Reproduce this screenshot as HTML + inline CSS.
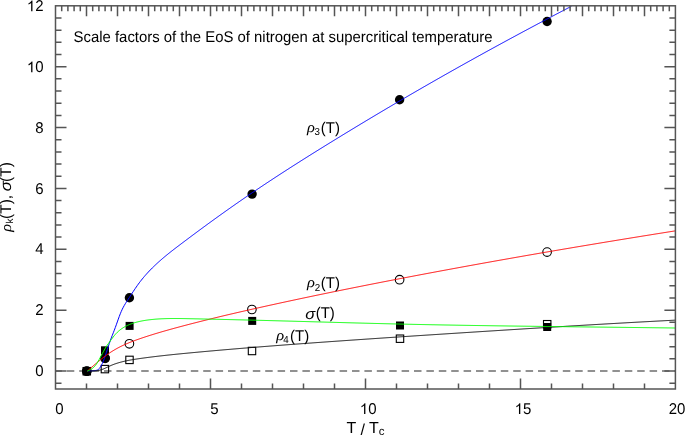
<!DOCTYPE html>
<html><head><meta charset="utf-8"><style>
html,body{margin:0;padding:0;background:#fff;width:685px;height:435px;overflow:hidden}
svg{display:block;will-change:transform;text-rendering:geometricPrecision}
</style></head><body>
<svg width="685" height="435" viewBox="0 0 685 435">
<rect width="685" height="435" fill="#fff"/>
<defs><clipPath id="pc"><rect x="55.5" y="5.8" width="620" height="383.2"/></clipPath></defs>
<line x1="55.5" y1="371" x2="675.4" y2="371" stroke="#6e6e6e" stroke-width="1.6" stroke-dasharray="7.5 4.9" stroke-dashoffset="-11.3"/>
<rect x="83.10" y="367.50" width="7.4" height="7.4" fill="none" stroke="#000" stroke-width="1.1"/>
<rect x="101.20" y="365.40" width="7.4" height="7.4" fill="none" stroke="#000" stroke-width="1.1"/>
<rect x="125.80" y="356.20" width="7.4" height="7.4" fill="none" stroke="#000" stroke-width="1.1"/>
<rect x="248.30" y="347.30" width="7.4" height="7.4" fill="none" stroke="#000" stroke-width="1.1"/>
<rect x="396.30" y="335.00" width="7.4" height="7.4" fill="none" stroke="#000" stroke-width="1.1"/>
<rect x="543.50" y="320.50" width="7.4" height="7.4" fill="none" stroke="#000" stroke-width="1.1"/>
<rect x="82.80" y="367.20" width="8" height="8" fill="#000"/>
<rect x="101.00" y="346.30" width="8" height="8" fill="#000"/>
<rect x="125.60" y="321.90" width="8" height="8" fill="#000"/>
<rect x="248.20" y="316.90" width="8" height="8" fill="#000"/>
<rect x="396.00" y="321.50" width="8" height="8" fill="#000"/>
<rect x="543.20" y="323.00" width="8" height="8" fill="#000"/>
<circle cx="86.8" cy="371.2" r="4.3" fill="none" stroke="#000" stroke-width="1.1"/>
<circle cx="105.1" cy="358.3" r="4.3" fill="none" stroke="#000" stroke-width="1.1"/>
<circle cx="129.4" cy="343.8" r="4.3" fill="none" stroke="#000" stroke-width="1.1"/>
<circle cx="251.9" cy="309.5" r="4.3" fill="none" stroke="#000" stroke-width="1.1"/>
<circle cx="399.6" cy="279.7" r="4.3" fill="none" stroke="#000" stroke-width="1.1"/>
<circle cx="547.1" cy="252.1" r="4.3" fill="none" stroke="#000" stroke-width="1.1"/>
<circle cx="86.8" cy="371.2" r="4.7" fill="#000"/>
<circle cx="105.1" cy="358.3" r="4.7" fill="#000"/>
<circle cx="129.4" cy="297.7" r="4.7" fill="#000"/>
<circle cx="252.1" cy="194.1" r="4.7" fill="#000"/>
<circle cx="399.6" cy="99.8" r="4.7" fill="#000"/>
<circle cx="547.1" cy="21.5" r="4.7" fill="#000"/>
<g clip-path="url(#pc)" fill="none" stroke-width="1.0" stroke-linejoin="round">
<path d="M87.3,371.20 88.3,371.04 89.3,370.93 90.3,370.86 91.3,370.81 92.3,370.77 93.3,370.72 94.3,370.65 95.3,370.54 96.3,370.36 97.3,370.07 98.3,369.50 99.3,368.53 100.3,367.17 101.3,365.50 102.3,363.53 103.3,361.22 104.3,358.57 105.3,355.68 106.3,352.65 107.3,349.55 108.3,346.46 109.3,343.46 110.3,340.60 111.3,337.91 112.3,335.32 113.3,332.78 114.3,330.21 115.3,327.54 116.3,324.77 117.3,321.94 118.3,319.12 119.3,316.37 120.3,313.76 121.3,311.36 122.3,309.18 123.3,307.21 124.3,305.41 125.3,303.73 126.3,302.14 127.3,300.60 128.3,299.08 129.3,297.55 130.3,296.01 131.3,294.47 132.3,292.94 133.3,291.42 134.3,289.91 135.3,288.43 136.3,286.97 137.3,285.54 138.3,284.14 139.3,282.79 140.3,281.47 141.3,280.19 142.3,278.94 143.3,277.72 144.3,276.54 145.3,275.38 146.3,274.25 147.3,273.15 148.3,272.07 149.3,271.01 150.3,269.97 151.3,268.95 152.3,267.95 153.3,266.97 154.3,266.00 155.3,265.05 156.3,264.11 157.3,263.18 158.3,262.27 159.3,261.37 160.3,260.49 161.3,259.61 162.3,258.75 163.3,257.90 164.3,257.05 165.3,256.22 166.3,255.40 167.3,254.58 168.3,253.77 169.3,252.97 170.3,252.18 171.3,251.39 172.3,250.61 173.3,249.83 174.3,249.06 175.3,248.29 176.3,247.53 177.3,246.76 178.3,246.01 179.3,245.25 180.3,244.49 181.3,243.74 182.3,242.98 183.3,242.23 184.3,241.47 185.3,240.72 186.3,239.97 187.3,239.22 188.3,238.47 189.3,237.72 190.3,236.97 191.3,236.23 192.3,235.48 193.3,234.74 194.3,233.99 195.3,233.25 196.3,232.51 197.3,231.77 198.3,231.03 199.3,230.29 200.3,229.55 201.3,228.81 202.3,228.08 203.3,227.34 204.3,226.61 205.3,225.88 206.3,225.14 207.3,224.41 208.3,223.68 209.3,222.95 210.3,222.23 211.3,221.50 212.3,220.77 213.3,220.05 214.3,219.33 215.3,218.60 216.3,217.88 217.3,217.16 218.3,216.44 219.3,215.73 220.3,215.01 221.3,214.29 222.3,213.58 223.3,212.87 224.3,212.15 225.3,211.44 226.3,210.73 227.3,210.02 228.3,209.32 229.3,208.61 230.3,207.90 231.3,207.20 232.3,206.50 233.3,205.80 234.3,205.10 235.3,204.40 236.3,203.70 237.3,203.00 238.3,202.31 239.3,201.61 240.3,200.92 241.3,200.23 242.3,199.54 243.3,198.85 244.3,198.16 245.3,197.47 246.3,196.79 247.3,196.10 248.3,195.42 249.3,194.74 250.3,194.06 251.3,193.38 252.3,192.70 253.3,192.02 254.3,191.35 255.3,190.67 256.3,190.00 257.3,189.32 258.3,188.65 259.3,187.98 260.3,187.31 261.3,186.64 262.3,185.98 263.3,185.31 264.3,184.64 265.3,183.98 266.3,183.32 267.3,182.65 268.3,181.99 269.3,181.33 270.3,180.67 271.3,180.02 272.3,179.36 273.3,178.70 274.3,178.05 275.3,177.39 276.3,176.74 277.3,176.09 278.3,175.43 279.3,174.78 280.3,174.13 281.3,173.48 282.3,172.84 283.3,172.19 284.3,171.54 285.3,170.90 286.3,170.25 287.3,169.61 288.3,168.97 289.3,168.32 290.3,167.68 291.3,167.04 292.3,166.40 293.3,165.76 294.3,165.13 295.3,164.49 296.3,163.85 297.3,163.22 298.3,162.58 299.3,161.95 300.3,161.31 301.3,160.68 302.3,160.05 303.3,159.42 304.3,158.79 305.3,158.16 306.3,157.53 307.3,156.90 308.3,156.27 309.3,155.64 310.3,155.01 311.3,154.39 312.3,153.76 313.3,153.14 314.3,152.51 315.3,151.89 316.3,151.27 317.3,150.64 318.3,150.02 319.3,149.40 320.3,148.78 321.3,148.16 322.3,147.54 323.3,146.92 324.3,146.30 325.3,145.68 326.3,145.06 327.3,144.44 328.3,143.83 329.3,143.21 330.3,142.59 331.3,141.98 332.3,141.36 333.3,140.75 334.3,140.13 335.3,139.52 336.3,138.91 337.3,138.29 338.3,137.68 339.3,137.07 340.3,136.46 341.3,135.84 342.3,135.23 343.3,134.62 344.3,134.01 345.3,133.40 346.3,132.79 347.3,132.19 348.3,131.58 349.3,130.97 350.3,130.36 351.3,129.76 352.3,129.15 353.3,128.54 354.3,127.94 355.3,127.33 356.3,126.73 357.3,126.12 358.3,125.52 359.3,124.92 360.3,124.31 361.3,123.71 362.3,123.11 363.3,122.51 364.3,121.91 365.3,121.30 366.3,120.70 367.3,120.10 368.3,119.50 369.3,118.91 370.3,118.31 371.3,117.71 372.3,117.11 373.3,116.51 374.3,115.92 375.3,115.32 376.3,114.72 377.3,114.13 378.3,113.53 379.3,112.94 380.3,112.35 381.3,111.75 382.3,111.16 383.3,110.56 384.3,109.97 385.3,109.38 386.3,108.79 387.3,108.20 388.3,107.61 389.3,107.02 390.3,106.43 391.3,105.84 392.3,105.25 393.3,104.66 394.3,104.07 395.3,103.48 396.3,102.90 397.3,102.31 398.3,101.72 399.3,101.14 400.3,100.55 401.3,99.97 402.3,99.38 403.3,98.80 404.3,98.21 405.3,97.63 406.3,97.05 407.3,96.46 408.3,95.88 409.3,95.30 410.3,94.72 411.3,94.14 412.3,93.56 413.3,92.98 414.3,92.40 415.3,91.82 416.3,91.24 417.3,90.66 418.3,90.08 419.3,89.50 420.3,88.93 421.3,88.35 422.3,87.77 423.3,87.20 424.3,86.62 425.3,86.05 426.3,85.47 427.3,84.90 428.3,84.33 429.3,83.75 430.3,83.18 431.3,82.61 432.3,82.04 433.3,81.46 434.3,80.89 435.3,80.32 436.3,79.75 437.3,79.18 438.3,78.61 439.3,78.04 440.3,77.47 441.3,76.91 442.3,76.34 443.3,75.77 444.3,75.20 445.3,74.64 446.3,74.07 447.3,73.51 448.3,72.94 449.3,72.38 450.3,71.81 451.3,71.25 452.3,70.68 453.3,70.12 454.3,69.56 455.3,69.00 456.3,68.43 457.3,67.87 458.3,67.31 459.3,66.75 460.3,66.19 461.3,65.63 462.3,65.07 463.3,64.51 464.3,63.95 465.3,63.39 466.3,62.84 467.3,62.28 468.3,61.72 469.3,61.16 470.3,60.61 471.3,60.05 472.3,59.50 473.3,58.94 474.3,58.39 475.3,57.83 476.3,57.28 477.3,56.73 478.3,56.17 479.3,55.62 480.3,55.07 481.3,54.52 482.3,53.96 483.3,53.41 484.3,52.86 485.3,52.31 486.3,51.76 487.3,51.21 488.3,50.66 489.3,50.11 490.3,49.57 491.3,49.02 492.3,48.47 493.3,47.92 494.3,47.38 495.3,46.83 496.3,46.28 497.3,45.74 498.3,45.19 499.3,44.65 500.3,44.10 501.3,43.56 502.3,43.01 503.3,42.47 504.3,41.93 505.3,41.38 506.3,40.84 507.3,40.30 508.3,39.76 509.3,39.22 510.3,38.68 511.3,38.14 512.3,37.60 513.3,37.06 514.3,36.52 515.3,35.98 516.3,35.44 517.3,34.90 518.3,34.36 519.3,33.82 520.3,33.29 521.3,32.75 522.3,32.21 523.3,31.68 524.3,31.14 525.3,30.60 526.3,30.07 527.3,29.53 528.3,29.00 529.3,28.47 530.3,27.93 531.3,27.40 532.3,26.87 533.3,26.33 534.3,25.80 535.3,25.27 536.3,24.74 537.3,24.20 538.3,23.67 539.3,23.14 540.3,22.61 541.3,22.08 542.3,21.55 543.3,21.02 544.3,20.49 545.3,19.97 546.3,19.44 547.3,18.91 548.3,18.38 549.3,17.85 550.3,17.33 551.3,16.80 552.3,16.27 553.3,15.75 554.3,15.22 555.3,14.70 556.3,14.17 557.3,13.65 558.3,13.12 559.3,12.60 560.3,12.07 561.3,11.55 562.3,11.03 563.3,10.50 564.3,9.98 565.3,9.46 566.3,8.94 567.3,8.42 568.3,7.89 569.3,7.37 570.3,6.85 571.3,6.33 571.5,6.23" stroke="#0000ff"/>
<path d="M87.3,371.20 88.3,370.22 89.3,369.31 90.3,368.42 91.3,367.54 92.3,366.68 93.3,365.83 94.3,364.97 95.3,364.12 96.3,363.27 97.3,362.43 98.3,361.58 99.3,360.75 100.3,359.93 101.3,359.12 102.3,358.32 103.3,357.53 104.3,356.76 105.3,356.00 106.3,355.26 107.3,354.54 108.3,353.83 109.3,353.15 110.3,352.48 111.3,351.83 112.3,351.20 113.3,350.58 114.3,349.98 115.3,349.40 116.3,348.83 117.3,348.27 118.3,347.74 119.3,347.21 120.3,346.70 121.3,346.20 122.3,345.72 123.3,345.25 124.3,344.78 125.3,344.33 126.3,343.90 127.3,343.47 128.3,343.05 129.3,342.64 130.3,342.23 131.3,341.84 132.3,341.45 133.3,341.08 134.3,340.70 135.3,340.34 136.3,339.97 137.3,339.62 138.3,339.27 139.3,338.92 140.3,338.57 141.3,338.23 142.3,337.89 143.3,337.56 144.3,337.22 145.3,336.89 146.3,336.57 147.3,336.24 148.3,335.92 149.3,335.60 150.3,335.28 151.3,334.97 152.3,334.66 153.3,334.35 154.3,334.04 155.3,333.73 156.3,333.43 157.3,333.13 158.3,332.83 159.3,332.53 160.3,332.24 161.3,331.94 162.3,331.65 163.3,331.36 164.3,331.07 165.3,330.79 166.3,330.50 167.3,330.22 168.3,329.94 169.3,329.66 170.3,329.38 171.3,329.10 172.3,328.83 173.3,328.55 174.3,328.28 175.3,328.01 176.3,327.74 177.3,327.47 178.3,327.20 179.3,326.93 180.3,326.66 181.3,326.40 182.3,326.13 183.3,325.87 184.3,325.60 185.3,325.34 186.3,325.08 187.3,324.81 188.3,324.55 189.3,324.29 190.3,324.03 191.3,323.78 192.3,323.52 193.3,323.26 194.3,323.01 195.3,322.75 196.3,322.49 197.3,322.24 198.3,321.99 199.3,321.73 200.3,321.48 201.3,321.23 202.3,320.98 203.3,320.73 204.3,320.48 205.3,320.23 206.3,319.98 207.3,319.74 208.3,319.49 209.3,319.25 210.3,319.00 211.3,318.76 212.3,318.51 213.3,318.27 214.3,318.02 215.3,317.78 216.3,317.54 217.3,317.30 218.3,317.06 219.3,316.82 220.3,316.58 221.3,316.34 222.3,316.10 223.3,315.86 224.3,315.63 225.3,315.39 226.3,315.15 227.3,314.92 228.3,314.68 229.3,314.45 230.3,314.21 231.3,313.98 232.3,313.75 233.3,313.52 234.3,313.28 235.3,313.05 236.3,312.82 237.3,312.59 238.3,312.36 239.3,312.13 240.3,311.90 241.3,311.67 242.3,311.44 243.3,311.21 244.3,310.98 245.3,310.76 246.3,310.53 247.3,310.30 248.3,310.08 249.3,309.85 250.3,309.62 251.3,309.40 252.3,309.17 253.3,308.95 254.3,308.72 255.3,308.50 256.3,308.28 257.3,308.05 258.3,307.83 259.3,307.61 260.3,307.39 261.3,307.16 262.3,306.94 263.3,306.72 264.3,306.50 265.3,306.28 266.3,306.06 267.3,305.83 268.3,305.61 269.3,305.39 270.3,305.17 271.3,304.96 272.3,304.74 273.3,304.52 274.3,304.30 275.3,304.08 276.3,303.86 277.3,303.64 278.3,303.43 279.3,303.21 280.3,302.99 281.3,302.77 282.3,302.56 283.3,302.34 284.3,302.13 285.3,301.91 286.3,301.69 287.3,301.48 288.3,301.26 289.3,301.05 290.3,300.83 291.3,300.62 292.3,300.41 293.3,300.19 294.3,299.98 295.3,299.77 296.3,299.55 297.3,299.34 298.3,299.13 299.3,298.92 300.3,298.70 301.3,298.49 302.3,298.28 303.3,298.07 304.3,297.86 305.3,297.65 306.3,297.44 307.3,297.23 308.3,297.02 309.3,296.81 310.3,296.60 311.3,296.39 312.3,296.18 313.3,295.97 314.3,295.76 315.3,295.55 316.3,295.34 317.3,295.14 318.3,294.93 319.3,294.72 320.3,294.51 321.3,294.31 322.3,294.10 323.3,293.89 324.3,293.69 325.3,293.48 326.3,293.27 327.3,293.07 328.3,292.86 329.3,292.66 330.3,292.45 331.3,292.25 332.3,292.04 333.3,291.84 334.3,291.63 335.3,291.43 336.3,291.23 337.3,291.02 338.3,290.82 339.3,290.62 340.3,290.41 341.3,290.21 342.3,290.01 343.3,289.81 344.3,289.60 345.3,289.40 346.3,289.20 347.3,289.00 348.3,288.80 349.3,288.60 350.3,288.40 351.3,288.20 352.3,288.00 353.3,287.79 354.3,287.59 355.3,287.40 356.3,287.20 357.3,287.00 358.3,286.80 359.3,286.60 360.3,286.40 361.3,286.20 362.3,286.00 363.3,285.80 364.3,285.60 365.3,285.41 366.3,285.21 367.3,285.01 368.3,284.81 369.3,284.62 370.3,284.42 371.3,284.22 372.3,284.03 373.3,283.83 374.3,283.63 375.3,283.44 376.3,283.24 377.3,283.05 378.3,282.85 379.3,282.65 380.3,282.46 381.3,282.26 382.3,282.07 383.3,281.87 384.3,281.68 385.3,281.49 386.3,281.29 387.3,281.10 388.3,280.90 389.3,280.71 390.3,280.52 391.3,280.32 392.3,280.13 393.3,279.94 394.3,279.74 395.3,279.55 396.3,279.36 397.3,279.17 398.3,278.97 399.3,278.78 400.3,278.59 401.3,278.40 402.3,278.21 403.3,278.01 404.3,277.82 405.3,277.63 406.3,277.44 407.3,277.25 408.3,277.06 409.3,276.87 410.3,276.68 411.3,276.49 412.3,276.30 413.3,276.11 414.3,275.92 415.3,275.73 416.3,275.54 417.3,275.35 418.3,275.16 419.3,274.97 420.3,274.78 421.3,274.59 422.3,274.40 423.3,274.22 424.3,274.03 425.3,273.84 426.3,273.65 427.3,273.46 428.3,273.28 429.3,273.09 430.3,272.90 431.3,272.71 432.3,272.53 433.3,272.34 434.3,272.15 435.3,271.97 436.3,271.78 437.3,271.59 438.3,271.41 439.3,271.22 440.3,271.03 441.3,270.85 442.3,270.66 443.3,270.48 444.3,270.29 445.3,270.11 446.3,269.92 447.3,269.74 448.3,269.55 449.3,269.37 450.3,269.18 451.3,269.00 452.3,268.81 453.3,268.63 454.3,268.45 455.3,268.26 456.3,268.08 457.3,267.90 458.3,267.71 459.3,267.53 460.3,267.35 461.3,267.16 462.3,266.98 463.3,266.80 464.3,266.61 465.3,266.43 466.3,266.25 467.3,266.07 468.3,265.89 469.3,265.70 470.3,265.52 471.3,265.34 472.3,265.16 473.3,264.98 474.3,264.80 475.3,264.62 476.3,264.44 477.3,264.25 478.3,264.07 479.3,263.89 480.3,263.71 481.3,263.53 482.3,263.35 483.3,263.17 484.3,262.99 485.3,262.81 486.3,262.63 487.3,262.45 488.3,262.28 489.3,262.10 490.3,261.92 491.3,261.74 492.3,261.56 493.3,261.38 494.3,261.20 495.3,261.02 496.3,260.85 497.3,260.67 498.3,260.49 499.3,260.31 500.3,260.14 501.3,259.96 502.3,259.78 503.3,259.60 504.3,259.43 505.3,259.25 506.3,259.07 507.3,258.90 508.3,258.72 509.3,258.54 510.3,258.37 511.3,258.19 512.3,258.01 513.3,257.84 514.3,257.66 515.3,257.49 516.3,257.31 517.3,257.14 518.3,256.96 519.3,256.79 520.3,256.61 521.3,256.44 522.3,256.26 523.3,256.09 524.3,255.91 525.3,255.74 526.3,255.56 527.3,255.39 528.3,255.21 529.3,255.04 530.3,254.87 531.3,254.69 532.3,254.52 533.3,254.35 534.3,254.17 535.3,254.00 536.3,253.83 537.3,253.65 538.3,253.48 539.3,253.31 540.3,253.14 541.3,252.96 542.3,252.79 543.3,252.62 544.3,252.45 545.3,252.28 546.3,252.10 547.3,251.93 548.3,251.76 549.3,251.59 550.3,251.42 551.3,251.25 552.3,251.08 553.3,250.90 554.3,250.73 555.3,250.56 556.3,250.39 557.3,250.22 558.3,250.05 559.3,249.88 560.3,249.71 561.3,249.54 562.3,249.37 563.3,249.20 564.3,249.03 565.3,248.86 566.3,248.69 567.3,248.52 568.3,248.35 569.3,248.19 570.3,248.02 571.3,247.85 572.3,247.68 573.3,247.51 574.3,247.34 575.3,247.17 576.3,247.00 577.3,246.84 578.3,246.67 579.3,246.50 580.3,246.33 581.3,246.17 582.3,246.00 583.3,245.83 584.3,245.66 585.3,245.50 586.3,245.33 587.3,245.16 588.3,244.99 589.3,244.83 590.3,244.66 591.3,244.49 592.3,244.33 593.3,244.16 594.3,244.00 595.3,243.83 596.3,243.66 597.3,243.50 598.3,243.33 599.3,243.17 600.3,243.00 601.3,242.83 602.3,242.67 603.3,242.50 604.3,242.34 605.3,242.17 606.3,242.01 607.3,241.84 608.3,241.68 609.3,241.51 610.3,241.35 611.3,241.19 612.3,241.02 613.3,240.86 614.3,240.69 615.3,240.53 616.3,240.37 617.3,240.20 618.3,240.04 619.3,239.87 620.3,239.71 621.3,239.55 622.3,239.38 623.3,239.22 624.3,239.06 625.3,238.90 626.3,238.73 627.3,238.57 628.3,238.41 629.3,238.24 630.3,238.08 631.3,237.92 632.3,237.76 633.3,237.60 634.3,237.43 635.3,237.27 636.3,237.11 637.3,236.95 638.3,236.79 639.3,236.63 640.3,236.46 641.3,236.30 642.3,236.14 643.3,235.98 644.3,235.82 645.3,235.66 646.3,235.50 647.3,235.34 648.3,235.18 649.3,235.02 650.3,234.86 651.3,234.69 652.3,234.53 653.3,234.37 654.3,234.21 655.3,234.05 656.3,233.89 657.3,233.74 658.3,233.58 659.3,233.42 660.3,233.26 661.3,233.10 662.3,232.94 663.3,232.78 664.3,232.62 665.3,232.46 666.3,232.30 667.3,232.14 668.3,231.98 669.3,231.83 670.3,231.67 671.3,231.51 672.3,231.35 673.3,231.19 674.3,231.03 675.3,230.88 675.4,230.86" stroke="#ff0000"/>
<path d="M87.3,371.20 88.3,371.05 89.3,370.96 90.3,370.91 91.3,370.90 92.3,370.89 93.3,370.89 94.3,370.87 95.3,370.83 96.3,370.75 97.3,370.64 98.3,370.48 99.3,370.28 100.3,370.03 101.3,369.73 102.3,369.39 103.3,369.01 104.3,368.59 105.3,368.15 106.3,367.68 107.3,367.20 108.3,366.72 109.3,366.24 110.3,365.79 111.3,365.35 112.3,364.94 113.3,364.55 114.3,364.17 115.3,363.82 116.3,363.48 117.3,363.16 118.3,362.85 119.3,362.56 120.3,362.28 121.3,362.02 122.3,361.76 123.3,361.51 124.3,361.28 125.3,361.05 126.3,360.84 127.3,360.63 128.3,360.43 129.3,360.24 130.3,360.05 131.3,359.88 132.3,359.70 133.3,359.54 134.3,359.38 135.3,359.22 136.3,359.07 137.3,358.92 138.3,358.77 139.3,358.63 140.3,358.48 141.3,358.34 142.3,358.21 143.3,358.07 144.3,357.93 145.3,357.80 146.3,357.67 147.3,357.53 148.3,357.40 149.3,357.28 150.3,357.15 151.3,357.02 152.3,356.90 153.3,356.78 154.3,356.65 155.3,356.53 156.3,356.41 157.3,356.29 158.3,356.18 159.3,356.06 160.3,355.95 161.3,355.83 162.3,355.72 163.3,355.61 164.3,355.50 165.3,355.39 166.3,355.28 167.3,355.17 168.3,355.06 169.3,354.96 170.3,354.85 171.3,354.75 172.3,354.64 173.3,354.54 174.3,354.44 175.3,354.33 176.3,354.23 177.3,354.13 178.3,354.03 179.3,353.93 180.3,353.83 181.3,353.74 182.3,353.64 183.3,353.54 184.3,353.44 185.3,353.35 186.3,353.25 187.3,353.16 188.3,353.06 189.3,352.97 190.3,352.87 191.3,352.78 192.3,352.68 193.3,352.59 194.3,352.50 195.3,352.40 196.3,352.31 197.3,352.22 198.3,352.12 199.3,352.03 200.3,351.94 201.3,351.85 202.3,351.76 203.3,351.67 204.3,351.57 205.3,351.48 206.3,351.39 207.3,351.30 208.3,351.21 209.3,351.12 210.3,351.03 211.3,350.95 212.3,350.86 213.3,350.77 214.3,350.68 215.3,350.59 216.3,350.50 217.3,350.42 218.3,350.33 219.3,350.24 220.3,350.15 221.3,350.07 222.3,349.98 223.3,349.89 224.3,349.81 225.3,349.72 226.3,349.64 227.3,349.55 228.3,349.47 229.3,349.38 230.3,349.30 231.3,349.21 232.3,349.13 233.3,349.04 234.3,348.96 235.3,348.88 236.3,348.79 237.3,348.71 238.3,348.63 239.3,348.54 240.3,348.46 241.3,348.38 242.3,348.30 243.3,348.21 244.3,348.13 245.3,348.05 246.3,347.97 247.3,347.89 248.3,347.81 249.3,347.72 250.3,347.64 251.3,347.56 252.3,347.48 253.3,347.40 254.3,347.32 255.3,347.24 256.3,347.16 257.3,347.08 258.3,347.00 259.3,346.92 260.3,346.85 261.3,346.77 262.3,346.69 263.3,346.61 264.3,346.53 265.3,346.45 266.3,346.37 267.3,346.30 268.3,346.22 269.3,346.14 270.3,346.06 271.3,345.99 272.3,345.91 273.3,345.83 274.3,345.75 275.3,345.68 276.3,345.60 277.3,345.52 278.3,345.45 279.3,345.37 280.3,345.30 281.3,345.22 282.3,345.14 283.3,345.07 284.3,344.99 285.3,344.92 286.3,344.84 287.3,344.77 288.3,344.69 289.3,344.62 290.3,344.54 291.3,344.47 292.3,344.39 293.3,344.32 294.3,344.24 295.3,344.17 296.3,344.10 297.3,344.02 298.3,343.95 299.3,343.87 300.3,343.80 301.3,343.73 302.3,343.65 303.3,343.58 304.3,343.51 305.3,343.43 306.3,343.36 307.3,343.29 308.3,343.21 309.3,343.14 310.3,343.07 311.3,343.00 312.3,342.92 313.3,342.85 314.3,342.78 315.3,342.71 316.3,342.63 317.3,342.56 318.3,342.49 319.3,342.42 320.3,342.35 321.3,342.27 322.3,342.20 323.3,342.13 324.3,342.06 325.3,341.99 326.3,341.92 327.3,341.85 328.3,341.78 329.3,341.70 330.3,341.63 331.3,341.56 332.3,341.49 333.3,341.42 334.3,341.35 335.3,341.28 336.3,341.21 337.3,341.14 338.3,341.07 339.3,341.00 340.3,340.93 341.3,340.86 342.3,340.79 343.3,340.72 344.3,340.65 345.3,340.58 346.3,340.51 347.3,340.44 348.3,340.37 349.3,340.30 350.3,340.23 351.3,340.16 352.3,340.09 353.3,340.02 354.3,339.96 355.3,339.89 356.3,339.82 357.3,339.75 358.3,339.68 359.3,339.61 360.3,339.54 361.3,339.47 362.3,339.41 363.3,339.34 364.3,339.27 365.3,339.20 366.3,339.13 367.3,339.06 368.3,339.00 369.3,338.93 370.3,338.86 371.3,338.79 372.3,338.72 373.3,338.66 374.3,338.59 375.3,338.52 376.3,338.45 377.3,338.39 378.3,338.32 379.3,338.25 380.3,338.18 381.3,338.12 382.3,338.05 383.3,337.98 384.3,337.91 385.3,337.85 386.3,337.78 387.3,337.71 388.3,337.65 389.3,337.58 390.3,337.51 391.3,337.45 392.3,337.38 393.3,337.31 394.3,337.25 395.3,337.18 396.3,337.11 397.3,337.05 398.3,336.98 399.3,336.91 400.3,336.85 401.3,336.78 402.3,336.72 403.3,336.65 404.3,336.58 405.3,336.52 406.3,336.45 407.3,336.38 408.3,336.32 409.3,336.25 410.3,336.19 411.3,336.12 412.3,336.06 413.3,335.99 414.3,335.92 415.3,335.86 416.3,335.79 417.3,335.73 418.3,335.66 419.3,335.60 420.3,335.53 421.3,335.46 422.3,335.40 423.3,335.33 424.3,335.27 425.3,335.20 426.3,335.14 427.3,335.07 428.3,335.01 429.3,334.94 430.3,334.88 431.3,334.81 432.3,334.75 433.3,334.68 434.3,334.62 435.3,334.55 436.3,334.49 437.3,334.42 438.3,334.36 439.3,334.29 440.3,334.23 441.3,334.16 442.3,334.10 443.3,334.03 444.3,333.97 445.3,333.90 446.3,333.84 447.3,333.77 448.3,333.71 449.3,333.64 450.3,333.58 451.3,333.51 452.3,333.45 453.3,333.38 454.3,333.32 455.3,333.25 456.3,333.19 457.3,333.13 458.3,333.06 459.3,333.00 460.3,332.93 461.3,332.87 462.3,332.80 463.3,332.74 464.3,332.67 465.3,332.61 466.3,332.54 467.3,332.48 468.3,332.42 469.3,332.35 470.3,332.29 471.3,332.22 472.3,332.16 473.3,332.09 474.3,332.03 475.3,331.97 476.3,331.90 477.3,331.84 478.3,331.77 479.3,331.71 480.3,331.65 481.3,331.58 482.3,331.52 483.3,331.45 484.3,331.39 485.3,331.33 486.3,331.26 487.3,331.20 488.3,331.13 489.3,331.07 490.3,331.01 491.3,330.94 492.3,330.88 493.3,330.82 494.3,330.75 495.3,330.69 496.3,330.63 497.3,330.56 498.3,330.50 499.3,330.44 500.3,330.37 501.3,330.31 502.3,330.25 503.3,330.18 504.3,330.12 505.3,330.06 506.3,329.99 507.3,329.93 508.3,329.87 509.3,329.80 510.3,329.74 511.3,329.68 512.3,329.61 513.3,329.55 514.3,329.49 515.3,329.43 516.3,329.36 517.3,329.30 518.3,329.24 519.3,329.17 520.3,329.11 521.3,329.05 522.3,328.99 523.3,328.92 524.3,328.86 525.3,328.80 526.3,328.74 527.3,328.68 528.3,328.61 529.3,328.55 530.3,328.49 531.3,328.43 532.3,328.36 533.3,328.30 534.3,328.24 535.3,328.18 536.3,328.12 537.3,328.05 538.3,327.99 539.3,327.93 540.3,327.87 541.3,327.81 542.3,327.75 543.3,327.69 544.3,327.62 545.3,327.56 546.3,327.50 547.3,327.44 548.3,327.38 549.3,327.32 550.3,327.26 551.3,327.19 552.3,327.13 553.3,327.07 554.3,327.01 555.3,326.95 556.3,326.89 557.3,326.83 558.3,326.77 559.3,326.71 560.3,326.65 561.3,326.59 562.3,326.53 563.3,326.47 564.3,326.41 565.3,326.35 566.3,326.28 567.3,326.22 568.3,326.16 569.3,326.10 570.3,326.04 571.3,325.98 572.3,325.92 573.3,325.86 574.3,325.80 575.3,325.75 576.3,325.69 577.3,325.63 578.3,325.57 579.3,325.51 580.3,325.45 581.3,325.39 582.3,325.33 583.3,325.27 584.3,325.21 585.3,325.15 586.3,325.09 587.3,325.03 588.3,324.97 589.3,324.92 590.3,324.86 591.3,324.80 592.3,324.74 593.3,324.68 594.3,324.62 595.3,324.56 596.3,324.51 597.3,324.45 598.3,324.39 599.3,324.33 600.3,324.27 601.3,324.22 602.3,324.16 603.3,324.10 604.3,324.04 605.3,323.98 606.3,323.93 607.3,323.87 608.3,323.81 609.3,323.75 610.3,323.70 611.3,323.64 612.3,323.58 613.3,323.53 614.3,323.47 615.3,323.41 616.3,323.35 617.3,323.30 618.3,323.24 619.3,323.18 620.3,323.13 621.3,323.07 622.3,323.01 623.3,322.96 624.3,322.90 625.3,322.85 626.3,322.79 627.3,322.73 628.3,322.68 629.3,322.62 630.3,322.57 631.3,322.51 632.3,322.45 633.3,322.40 634.3,322.34 635.3,322.29 636.3,322.23 637.3,322.18 638.3,322.12 639.3,322.07 640.3,322.01 641.3,321.96 642.3,321.90 643.3,321.85 644.3,321.79 645.3,321.74 646.3,321.69 647.3,321.63 648.3,321.58 649.3,321.52 650.3,321.47 651.3,321.41 652.3,321.36 653.3,321.31 654.3,321.25 655.3,321.20 656.3,321.15 657.3,321.09 658.3,321.04 659.3,320.99 660.3,320.93 661.3,320.88 662.3,320.83 663.3,320.77 664.3,320.72 665.3,320.67 666.3,320.62 667.3,320.56 668.3,320.51 669.3,320.46 670.3,320.41 671.3,320.35 672.3,320.30 673.3,320.25 674.3,320.20 675.3,320.15 675.4,320.14" stroke="#111"/>
<path d="M87.3,371.20 88.3,370.62 89.3,370.09 90.3,369.58 91.3,369.04 92.3,368.42 93.3,367.66 94.3,366.72 95.3,365.56 96.3,364.22 97.3,362.71 98.3,361.05 99.3,359.27 100.3,357.42 101.3,355.52 102.3,353.62 103.3,351.76 104.3,349.95 105.3,348.22 106.3,346.60 107.3,345.09 108.3,343.66 109.3,342.27 110.3,340.90 111.3,339.53 112.3,338.18 113.3,336.86 114.3,335.60 115.3,334.42 116.3,333.33 117.3,332.32 118.3,331.39 119.3,330.52 120.3,329.73 121.3,328.99 122.3,328.30 123.3,327.65 124.3,327.05 125.3,326.49 126.3,325.97 127.3,325.48 128.3,325.03 129.3,324.60 130.3,324.20 131.3,323.83 132.3,323.48 133.3,323.14 134.3,322.82 135.3,322.53 136.3,322.24 137.3,321.98 138.3,321.73 139.3,321.49 140.3,321.27 141.3,321.07 142.3,320.87 143.3,320.69 144.3,320.52 145.3,320.36 146.3,320.21 147.3,320.07 148.3,319.93 149.3,319.81 150.3,319.69 151.3,319.58 152.3,319.48 153.3,319.38 154.3,319.29 155.3,319.20 156.3,319.12 157.3,319.05 158.3,318.98 159.3,318.92 160.3,318.86 161.3,318.81 162.3,318.76 163.3,318.72 164.3,318.68 165.3,318.65 166.3,318.62 167.3,318.59 168.3,318.57 169.3,318.55 170.3,318.53 171.3,318.52 172.3,318.51 173.3,318.51 174.3,318.51 175.3,318.51 176.3,318.51 177.3,318.52 178.3,318.52 179.3,318.53 180.3,318.54 181.3,318.56 182.3,318.57 183.3,318.59 184.3,318.60 185.3,318.62 186.3,318.64 187.3,318.66 188.3,318.68 189.3,318.70 190.3,318.72 191.3,318.74 192.3,318.76 193.3,318.78 194.3,318.80 195.3,318.83 196.3,318.85 197.3,318.87 198.3,318.89 199.3,318.91 200.3,318.93 201.3,318.95 202.3,318.97 203.3,319.00 204.3,319.02 205.3,319.04 206.3,319.06 207.3,319.08 208.3,319.11 209.3,319.13 210.3,319.15 211.3,319.17 212.3,319.19 213.3,319.22 214.3,319.24 215.3,319.26 216.3,319.28 217.3,319.31 218.3,319.33 219.3,319.35 220.3,319.37 221.3,319.40 222.3,319.42 223.3,319.44 224.3,319.47 225.3,319.49 226.3,319.51 227.3,319.54 228.3,319.56 229.3,319.58 230.3,319.61 231.3,319.63 232.3,319.65 233.3,319.68 234.3,319.70 235.3,319.72 236.3,319.75 237.3,319.77 238.3,319.80 239.3,319.82 240.3,319.84 241.3,319.87 242.3,319.89 243.3,319.92 244.3,319.94 245.3,319.97 246.3,319.99 247.3,320.02 248.3,320.04 249.3,320.07 250.3,320.09 251.3,320.12 252.3,320.14 253.3,320.17 254.3,320.19 255.3,320.22 256.3,320.24 257.3,320.27 258.3,320.29 259.3,320.32 260.3,320.35 261.3,320.37 262.3,320.40 263.3,320.42 264.3,320.45 265.3,320.47 266.3,320.50 267.3,320.53 268.3,320.55 269.3,320.58 270.3,320.61 271.3,320.63 272.3,320.66 273.3,320.69 274.3,320.71 275.3,320.74 276.3,320.77 277.3,320.79 278.3,320.82 279.3,320.85 280.3,320.87 281.3,320.90 282.3,320.93 283.3,320.96 284.3,320.98 285.3,321.01 286.3,321.04 287.3,321.06 288.3,321.09 289.3,321.12 290.3,321.15 291.3,321.17 292.3,321.20 293.3,321.23 294.3,321.26 295.3,321.28 296.3,321.31 297.3,321.34 298.3,321.37 299.3,321.39 300.3,321.42 301.3,321.45 302.3,321.48 303.3,321.51 304.3,321.53 305.3,321.56 306.3,321.59 307.3,321.62 308.3,321.64 309.3,321.67 310.3,321.70 311.3,321.73 312.3,321.76 313.3,321.78 314.3,321.81 315.3,321.84 316.3,321.87 317.3,321.90 318.3,321.92 319.3,321.95 320.3,321.98 321.3,322.01 322.3,322.04 323.3,322.06 324.3,322.09 325.3,322.12 326.3,322.15 327.3,322.17 328.3,322.20 329.3,322.23 330.3,322.26 331.3,322.29 332.3,322.31 333.3,322.34 334.3,322.37 335.3,322.40 336.3,322.42 337.3,322.45 338.3,322.48 339.3,322.51 340.3,322.53 341.3,322.56 342.3,322.59 343.3,322.62 344.3,322.64 345.3,322.67 346.3,322.70 347.3,322.72 348.3,322.75 349.3,322.78 350.3,322.81 351.3,322.83 352.3,322.86 353.3,322.89 354.3,322.91 355.3,322.94 356.3,322.97 357.3,322.99 358.3,323.02 359.3,323.05 360.3,323.07 361.3,323.10 362.3,323.13 363.3,323.15 364.3,323.18 365.3,323.21 366.3,323.23 367.3,323.26 368.3,323.28 369.3,323.31 370.3,323.34 371.3,323.36 372.3,323.39 373.3,323.41 374.3,323.44 375.3,323.46 376.3,323.49 377.3,323.51 378.3,323.54 379.3,323.56 380.3,323.59 381.3,323.61 382.3,323.64 383.3,323.66 384.3,323.69 385.3,323.71 386.3,323.74 387.3,323.76 388.3,323.79 389.3,323.81 390.3,323.83 391.3,323.86 392.3,323.88 393.3,323.91 394.3,323.93 395.3,323.95 396.3,323.98 397.3,324.00 398.3,324.02 399.3,324.05 400.3,324.07 401.3,324.09 402.3,324.11 403.3,324.14 404.3,324.16 405.3,324.18 406.3,324.20 407.3,324.23 408.3,324.25 409.3,324.27 410.3,324.29 411.3,324.31 412.3,324.34 413.3,324.36 414.3,324.38 415.3,324.40 416.3,324.42 417.3,324.44 418.3,324.46 419.3,324.48 420.3,324.50 421.3,324.53 422.3,324.55 423.3,324.57 424.3,324.59 425.3,324.61 426.3,324.63 427.3,324.65 428.3,324.67 429.3,324.69 430.3,324.71 431.3,324.73 432.3,324.75 433.3,324.76 434.3,324.78 435.3,324.80 436.3,324.82 437.3,324.84 438.3,324.86 439.3,324.88 440.3,324.90 441.3,324.92 442.3,324.94 443.3,324.95 444.3,324.97 445.3,324.99 446.3,325.01 447.3,325.03 448.3,325.04 449.3,325.06 450.3,325.08 451.3,325.10 452.3,325.12 453.3,325.13 454.3,325.15 455.3,325.17 456.3,325.19 457.3,325.20 458.3,325.22 459.3,325.24 460.3,325.25 461.3,325.27 462.3,325.29 463.3,325.30 464.3,325.32 465.3,325.34 466.3,325.35 467.3,325.37 468.3,325.39 469.3,325.40 470.3,325.42 471.3,325.44 472.3,325.45 473.3,325.47 474.3,325.48 475.3,325.50 476.3,325.52 477.3,325.53 478.3,325.55 479.3,325.56 480.3,325.58 481.3,325.59 482.3,325.61 483.3,325.62 484.3,325.64 485.3,325.65 486.3,325.67 487.3,325.68 488.3,325.70 489.3,325.71 490.3,325.73 491.3,325.74 492.3,325.76 493.3,325.77 494.3,325.79 495.3,325.80 496.3,325.82 497.3,325.83 498.3,325.85 499.3,325.86 500.3,325.87 501.3,325.89 502.3,325.90 503.3,325.92 504.3,325.93 505.3,325.94 506.3,325.96 507.3,325.97 508.3,325.99 509.3,326.00 510.3,326.01 511.3,326.03 512.3,326.04 513.3,326.05 514.3,326.07 515.3,326.08 516.3,326.09 517.3,326.11 518.3,326.12 519.3,326.13 520.3,326.15 521.3,326.16 522.3,326.17 523.3,326.19 524.3,326.20 525.3,326.21 526.3,326.23 527.3,326.24 528.3,326.25 529.3,326.26 530.3,326.28 531.3,326.29 532.3,326.30 533.3,326.31 534.3,326.33 535.3,326.34 536.3,326.35 537.3,326.36 538.3,326.38 539.3,326.39 540.3,326.40 541.3,326.41 542.3,326.43 543.3,326.44 544.3,326.45 545.3,326.46 546.3,326.48 547.3,326.49 548.3,326.50 549.3,326.51 550.3,326.52 551.3,326.54 552.3,326.55 553.3,326.56 554.3,326.57 555.3,326.58 556.3,326.60 557.3,326.61 558.3,326.62 559.3,326.63 560.3,326.64 561.3,326.66 562.3,326.67 563.3,326.68 564.3,326.69 565.3,326.70 566.3,326.71 567.3,326.73 568.3,326.74 569.3,326.75 570.3,326.76 571.3,326.77 572.3,326.78 573.3,326.80 574.3,326.81 575.3,326.82 576.3,326.83 577.3,326.84 578.3,326.85 579.3,326.87 580.3,326.88 581.3,326.89 582.3,326.90 583.3,326.91 584.3,326.92 585.3,326.93 586.3,326.95 587.3,326.96 588.3,326.97 589.3,326.98 590.3,326.99 591.3,327.00 592.3,327.01 593.3,327.03 594.3,327.04 595.3,327.05 596.3,327.06 597.3,327.07 598.3,327.08 599.3,327.09 600.3,327.11 601.3,327.12 602.3,327.13 603.3,327.14 604.3,327.15 605.3,327.16 606.3,327.17 607.3,327.19 608.3,327.20 609.3,327.21 610.3,327.22 611.3,327.23 612.3,327.24 613.3,327.25 614.3,327.27 615.3,327.28 616.3,327.29 617.3,327.30 618.3,327.31 619.3,327.32 620.3,327.34 621.3,327.35 622.3,327.36 623.3,327.37 624.3,327.38 625.3,327.39 626.3,327.41 627.3,327.42 628.3,327.43 629.3,327.44 630.3,327.45 631.3,327.46 632.3,327.48 633.3,327.49 634.3,327.50 635.3,327.51 636.3,327.52 637.3,327.53 638.3,327.55 639.3,327.56 640.3,327.57 641.3,327.58 642.3,327.59 643.3,327.61 644.3,327.62 645.3,327.63 646.3,327.64 647.3,327.66 648.3,327.67 649.3,327.68 650.3,327.69 651.3,327.70 652.3,327.72 653.3,327.73 654.3,327.74 655.3,327.75 656.3,327.77 657.3,327.78 658.3,327.79 659.3,327.80 660.3,327.82 661.3,327.83 662.3,327.84 663.3,327.85 664.3,327.87 665.3,327.88 666.3,327.89 667.3,327.91 668.3,327.92 669.3,327.93 670.3,327.94 671.3,327.96 672.3,327.97 673.3,327.98 674.3,328.00 675.3,328.01 675.4,328.01" stroke="#00ff00"/>
</g>
<g stroke="#555" stroke-width="1.5" fill="none">
<rect x="55.5" y="5.8" width="619.90" height="383.20"/>
<path d="M55.5,383.17h6M675.4,383.17h-6M55.5,371.00h11M675.4,371.00h-11M55.5,358.83h6M675.4,358.83h-6M55.5,346.66h6M675.4,346.66h-6M55.5,334.48h6M675.4,334.48h-6M55.5,322.31h6M675.4,322.31h-6M55.5,310.14h11M675.4,310.14h-11M55.5,297.97h6M675.4,297.97h-6M55.5,285.80h6M675.4,285.80h-6M55.5,273.62h6M675.4,273.62h-6M55.5,261.45h6M675.4,261.45h-6M55.5,249.28h11M675.4,249.28h-11M55.5,237.11h6M675.4,237.11h-6M55.5,224.94h6M675.4,224.94h-6M55.5,212.76h6M675.4,212.76h-6M55.5,200.59h6M675.4,200.59h-6M55.5,188.42h11M675.4,188.42h-11M55.5,176.25h6M675.4,176.25h-6M55.5,164.08h6M675.4,164.08h-6M55.5,151.90h6M675.4,151.90h-6M55.5,139.73h6M675.4,139.73h-6M55.5,127.56h11M675.4,127.56h-11M55.5,115.39h6M675.4,115.39h-6M55.5,103.22h6M675.4,103.22h-6M55.5,91.04h6M675.4,91.04h-6M55.5,78.87h6M675.4,78.87h-6M55.5,66.70h11M675.4,66.70h-11M55.5,54.53h6M675.4,54.53h-6M55.5,42.36h6M675.4,42.36h-6M55.5,30.18h6M675.4,30.18h-6M55.5,18.01h6M675.4,18.01h-6M86.50,389.0v-5.5M117.50,389.0v-5.5M148.50,389.0v-5.5M179.50,389.0v-5.5M210.50,389.0v-10.5M241.50,389.0v-5.5M272.50,389.0v-5.5M303.50,389.0v-5.5M334.50,389.0v-5.5M365.50,389.0v-10.5M396.50,389.0v-5.5M427.50,389.0v-5.5M458.50,389.0v-5.5M489.50,389.0v-5.5M520.50,389.0v-10.5M551.50,389.0v-5.5M582.50,389.0v-5.5M613.50,389.0v-5.5M644.50,389.0v-5.5M61.70,5.8v5.5M67.90,5.8v5.5M74.10,5.8v5.5M80.30,5.8v5.5M86.50,5.8v10.5M92.70,5.8v5.5M98.90,5.8v5.5M105.10,5.8v5.5M111.30,5.8v5.5M117.50,5.8v10.5M123.70,5.8v5.5M129.90,5.8v5.5M136.10,5.8v5.5M142.30,5.8v5.5M148.50,5.8v10.5M154.70,5.8v5.5M160.90,5.8v5.5M167.10,5.8v5.5M173.30,5.8v5.5M179.50,5.8v10.5M185.70,5.8v5.5M191.90,5.8v5.5M198.10,5.8v5.5M204.30,5.8v5.5M210.50,5.8v10.5M216.70,5.8v5.5M222.90,5.8v5.5M229.10,5.8v5.5M235.30,5.8v5.5M241.50,5.8v10.5M247.70,5.8v5.5M253.90,5.8v5.5M260.10,5.8v5.5M266.30,5.8v5.5M272.50,5.8v10.5M278.70,5.8v5.5M284.90,5.8v5.5M291.10,5.8v5.5M297.30,5.8v5.5M303.50,5.8v10.5M309.70,5.8v5.5M315.90,5.8v5.5M322.10,5.8v5.5M328.30,5.8v5.5M334.50,5.8v10.5M340.70,5.8v5.5M346.90,5.8v5.5M353.10,5.8v5.5M359.30,5.8v5.5M365.50,5.8v10.5M371.70,5.8v5.5M377.90,5.8v5.5M384.10,5.8v5.5M390.30,5.8v5.5M396.50,5.8v10.5M402.70,5.8v5.5M408.90,5.8v5.5M415.10,5.8v5.5M421.30,5.8v5.5M427.50,5.8v10.5M433.70,5.8v5.5M439.90,5.8v5.5M446.10,5.8v5.5M452.30,5.8v5.5M458.50,5.8v10.5M464.70,5.8v5.5M470.90,5.8v5.5M477.10,5.8v5.5M483.30,5.8v5.5M489.50,5.8v10.5M495.70,5.8v5.5M501.90,5.8v5.5M508.10,5.8v5.5M514.30,5.8v5.5M520.50,5.8v10.5M526.70,5.8v5.5M532.90,5.8v5.5M539.10,5.8v5.5M545.30,5.8v5.5M551.50,5.8v10.5M557.70,5.8v5.5M563.90,5.8v5.5M570.10,5.8v5.5M576.30,5.8v5.5M582.50,5.8v10.5M588.70,5.8v5.5M594.90,5.8v5.5M601.10,5.8v5.5M607.30,5.8v5.5M613.50,5.8v10.5M619.70,5.8v5.5M625.90,5.8v5.5M632.10,5.8v5.5M638.30,5.8v5.5M644.50,5.8v10.5M650.70,5.8v5.5M656.90,5.8v5.5M663.10,5.8v5.5M669.30,5.8v5.5"/>
</g>
<g transform="translate(35.21,375.60) scale(1,1.04)"><text x="0.00" y="0" font-family="&quot;Liberation Sans&quot;, sans-serif" font-size="15">0</text></g>
<g transform="translate(35.21,314.84) scale(1,1.04)"><text x="0.00" y="0" font-family="&quot;Liberation Sans&quot;, sans-serif" font-size="15">2</text></g>
<g transform="translate(35.21,254.48) scale(1,1.04)"><text x="0.00" y="0" font-family="&quot;Liberation Sans&quot;, sans-serif" font-size="15">4</text></g>
<g transform="translate(35.21,193.82) scale(1,1.04)"><text x="0.00" y="0" font-family="&quot;Liberation Sans&quot;, sans-serif" font-size="15">6</text></g>
<g transform="translate(35.21,133.01) scale(1,1.04)"><text x="0.00" y="0" font-family="&quot;Liberation Sans&quot;, sans-serif" font-size="15">8</text></g>
<g transform="translate(26.87,72.15) scale(1,1.04)"><g transform="translate(0.00,0)"><path d="M5.59,0.00L4.27,0.00L4.27,-8.07C3.96,-7.79 3.54,-7.49 3.02,-7.20C2.50,-6.91 2.04,-6.69 1.63,-6.55L1.63,-7.77C2.37,-8.10 3.02,-8.51 3.57,-8.98C4.12,-9.45 4.50,-9.90 4.73,-10.32L5.59,-10.32Z"/></g><text x="8.34" y="0" font-family="&quot;Liberation Sans&quot;, sans-serif" font-size="15">0</text></g>
<g transform="translate(26.87,11.34) scale(1,1.04)"><g transform="translate(0.00,0)"><path d="M5.59,0.00L4.27,0.00L4.27,-8.07C3.96,-7.79 3.54,-7.49 3.02,-7.20C2.50,-6.91 2.04,-6.69 1.63,-6.55L1.63,-7.77C2.37,-8.10 3.02,-8.51 3.57,-8.98C4.12,-9.45 4.50,-9.90 4.73,-10.32L5.59,-10.32Z"/></g><text x="8.34" y="0" font-family="&quot;Liberation Sans&quot;, sans-serif" font-size="15">2</text></g>
<g transform="translate(55.20,414.00) scale(1,1.04)"><text x="0.00" y="0" font-family="&quot;Liberation Sans&quot;, sans-serif" font-size="15">0</text></g>
<g transform="translate(210.20,414.00) scale(1,1.04)"><text x="0.00" y="0" font-family="&quot;Liberation Sans&quot;, sans-serif" font-size="15">5</text></g>
<g transform="translate(359.80,414.00) scale(1,1.04)"><g transform="translate(0.00,0)"><path d="M5.59,0.00L4.27,0.00L4.27,-8.07C3.96,-7.79 3.54,-7.49 3.02,-7.20C2.50,-6.91 2.04,-6.69 1.63,-6.55L1.63,-7.77C2.37,-8.10 3.02,-8.51 3.57,-8.98C4.12,-9.45 4.50,-9.90 4.73,-10.32L5.59,-10.32Z"/></g><text x="8.34" y="0" font-family="&quot;Liberation Sans&quot;, sans-serif" font-size="15">0</text></g>
<g transform="translate(514.70,414.00) scale(1,1.04)"><g transform="translate(0.00,0)"><path d="M5.59,0.00L4.27,0.00L4.27,-8.07C3.96,-7.79 3.54,-7.49 3.02,-7.20C2.50,-6.91 2.04,-6.69 1.63,-6.55L1.63,-7.77C2.37,-8.10 3.02,-8.51 3.57,-8.98C4.12,-9.45 4.50,-9.90 4.73,-10.32L5.59,-10.32Z"/></g><text x="8.34" y="0" font-family="&quot;Liberation Sans&quot;, sans-serif" font-size="15">5</text></g>
<g transform="translate(668.70,414.00) scale(1,1.04)"><text x="0.00" y="0" font-family="&quot;Liberation Sans&quot;, sans-serif" font-size="15">2</text><text x="8.34" y="0" font-family="&quot;Liberation Sans&quot;, sans-serif" font-size="15">0</text></g>
<text transform="translate(73.60,41.80) scale(1,1.04)" x="0" y="0" font-family="&quot;Liberation Sans&quot;, sans-serif" font-size="14.9" >Scale factors of the EoS of nitrogen at supercritical temperature</text>
<text transform="translate(306.90,132.10) scale(1.1,0.98)" x="0" y="0" font-family="&quot;Liberation Serif&quot;, serif" font-style="italic" font-size="15">ρ</text>
<text transform="translate(320.80,132.60) scale(1,1.04)" x="0" y="0" font-family="&quot;Liberation Sans&quot;, sans-serif" font-size="15" ><tspan x="-6.30" dy="2.6" font-size="9.8">3</tspan><tspan x="0" dy="-2.6">(T)</tspan></text>
<text transform="translate(306.90,287.30) scale(1.1,0.98)" x="0" y="0" font-family="&quot;Liberation Serif&quot;, serif" font-style="italic" font-size="15">ρ</text>
<text transform="translate(320.80,287.80) scale(1,1.04)" x="0" y="0" font-family="&quot;Liberation Sans&quot;, sans-serif" font-size="15" ><tspan x="-6.00" dy="2.6" font-size="9.8">2</tspan><tspan x="0" dy="-2.6">(T)</tspan></text>
<text transform="translate(305.30,318.60) scale(1.1,1.0)" x="0" y="0" font-family="&quot;Liberation Sans&quot;, sans-serif" font-style="italic" font-size="15">σ</text>
<text transform="translate(315.70,318.20) scale(1,1.04)" x="0" y="0" font-family="&quot;Liberation Sans&quot;, sans-serif" font-size="15" ><tspan x="0">(T)</tspan></text>
<text transform="translate(276.30,340.00) scale(1.1,0.98)" x="0" y="0" font-family="&quot;Liberation Serif&quot;, serif" font-style="italic" font-size="15">ρ</text>
<text transform="translate(290.10,340.50) scale(1,1.04)" x="0" y="0" font-family="&quot;Liberation Sans&quot;, sans-serif" font-size="15" ><tspan x="-6.90" dy="2.6" font-size="9.8">4</tspan><tspan x="0" dy="-2.6">(T)</tspan></text>
<text transform="translate(346.50,433.20) scale(1,1.0)" x="0" y="0" font-family="&quot;Liberation Sans&quot;, sans-serif" font-size="16" >T <tspan dy="1.6">/</tspan><tspan dy="-1.6"> T</tspan><tspan font-size="11.5" dy="1.4">c</tspan></text>
<g transform="translate(11.0,233.0) rotate(-90)"><text x="1.2" y="0" font-family="&quot;Liberation Serif&quot;, serif" font-style="italic" font-size="15" transform="scale(1.08,1)">ρ</text><g transform="translate(41.7,0) scale(1.09,1)"><text x="0" y="0" font-family="&quot;Liberation Sans&quot;, sans-serif" font-style="italic" font-size="15.5">σ</text></g><text y="0" font-family="&quot;Liberation Sans&quot;, sans-serif" font-size="15.5"><tspan x="9.6" dy="1.9" font-size="10">k</tspan><tspan x="14.0" dy="-1.9">(T), </tspan><tspan x="51.1">(T)</tspan></text></g>
</svg>
</body></html>
